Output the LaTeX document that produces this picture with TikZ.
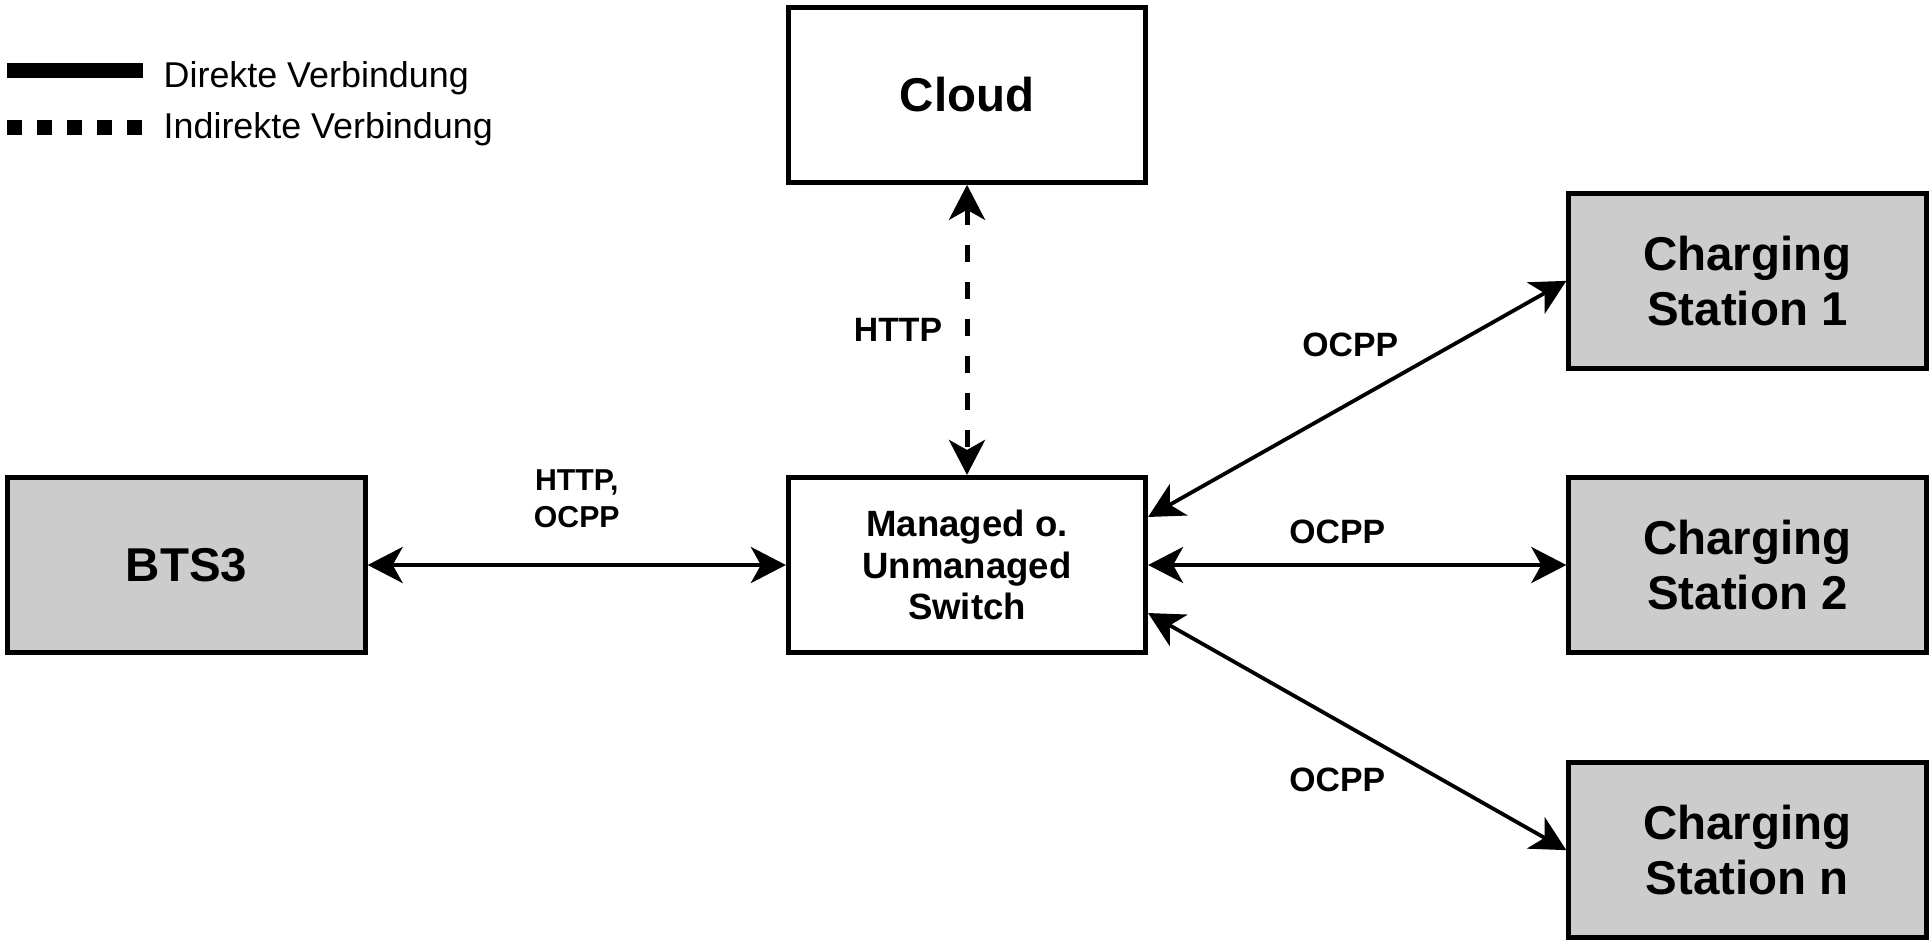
\documentclass[tikz,border=0pt]{standalone}
\usepackage{fontspec}
\setmainfont{Liberation Sans}
\usetikzlibrary{positioning, arrows.meta}
\definecolor{stationgray}{HTML}{CCCCCC}

\begin{document}
\begin{tikzpicture}[x=0.01cm, y=-0.01cm,
        box/.style={draw, line width=0.05cm, minimum width=3.57cm, minimum height=1.75cm, align=center, inner sep=0pt, font=\bfseries\fontsize{13.5}{15.7}\selectfont},
        station/.style={box, fill=stationgray},
        link/.style={line width=0.038cm, {Stealth[length=0.35cm, width=0.36cm, inset=0.1cm]}-{Stealth[length=0.35cm, width=0.36cm, inset=0.1cm]}},
        indirect/.style={link, line width=0.05cm, dash pattern=on 0.17cm off 0.2cm},
        lbl/.style={align=center, inner sep=0pt, font=\bfseries\fontsize{9.6}{11.5}\selectfont},
        legend/.style={anchor=base west, inner sep=0pt, font=\fontsize{10.2}{12}\selectfont}]
            \useasboundingbox (0,0) rectangle (1932,942);

            \node (switch) [box, font=\bfseries\fontsize{10.4}{11.8}\selectfont] at (967,565) {Managed o.\\Unmanaged\\Switch};
            \node (cloud) [box, above=2.9cm of switch] {Cloud};
            \node (bts) [station, left=4.18cm of switch] {BTS3};
            \node (cs2) [station, right=4.18cm of switch] {Charging\\Station 2};
            \node (cs1) [station, above=1.04cm of cs2] {Charging\\Station 1};
            \node (csn) [station, below=1.05cm of cs2] {Charging\\Station n};

            \draw[link] (bts) -- (switch) node[lbl, midway, yshift=0.66cm, font=\bfseries\fontsize{8.6}{10.4}\selectfont] (lblbts) {HTTP,\\OCPP};
            \draw[indirect] (cloud) -- (switch) node[lbl, midway, xshift=-0.69cm] (lblcloud) {HTTP};
            \draw[link] ([yshift=0.48cm]switch.east) -- (cs1.west) node[lbl, midway, xshift=-0.07cm, yshift=0.54cm] (lblcs1) {OCPP};
            \draw[link] (switch) -- (cs2) node[lbl, midway, xshift=-0.2cm, yshift=0.33cm] (lblcs2) {OCPP};
            \draw[link] ([yshift=-0.48cm]switch.east) -- (csn.west) node[lbl, midway, xshift=-0.2cm, yshift=-0.48cm] (lblcsn) {OCPP};

            % legend
            \coordinate (solidA) at (7,70.5);
            \coordinate (solidB) at (143,70.5);
            \coordinate (dashA) at (7,127.5);
            \coordinate (dashB) at (142,127.5);
            \draw[line width=0.14cm] (solidA) -- (solidB);
            \draw[line width=0.15cm, dash pattern=on 0.15cm off 0.15cm] (dashA) -- (dashB);
            \node (legdirect) [legend] at (163,87) {Direkte Verbindung};
            \node (legindirect) [legend] at (163,138) {Indirekte Verbindung};
        \end{tikzpicture}
\end{document}
